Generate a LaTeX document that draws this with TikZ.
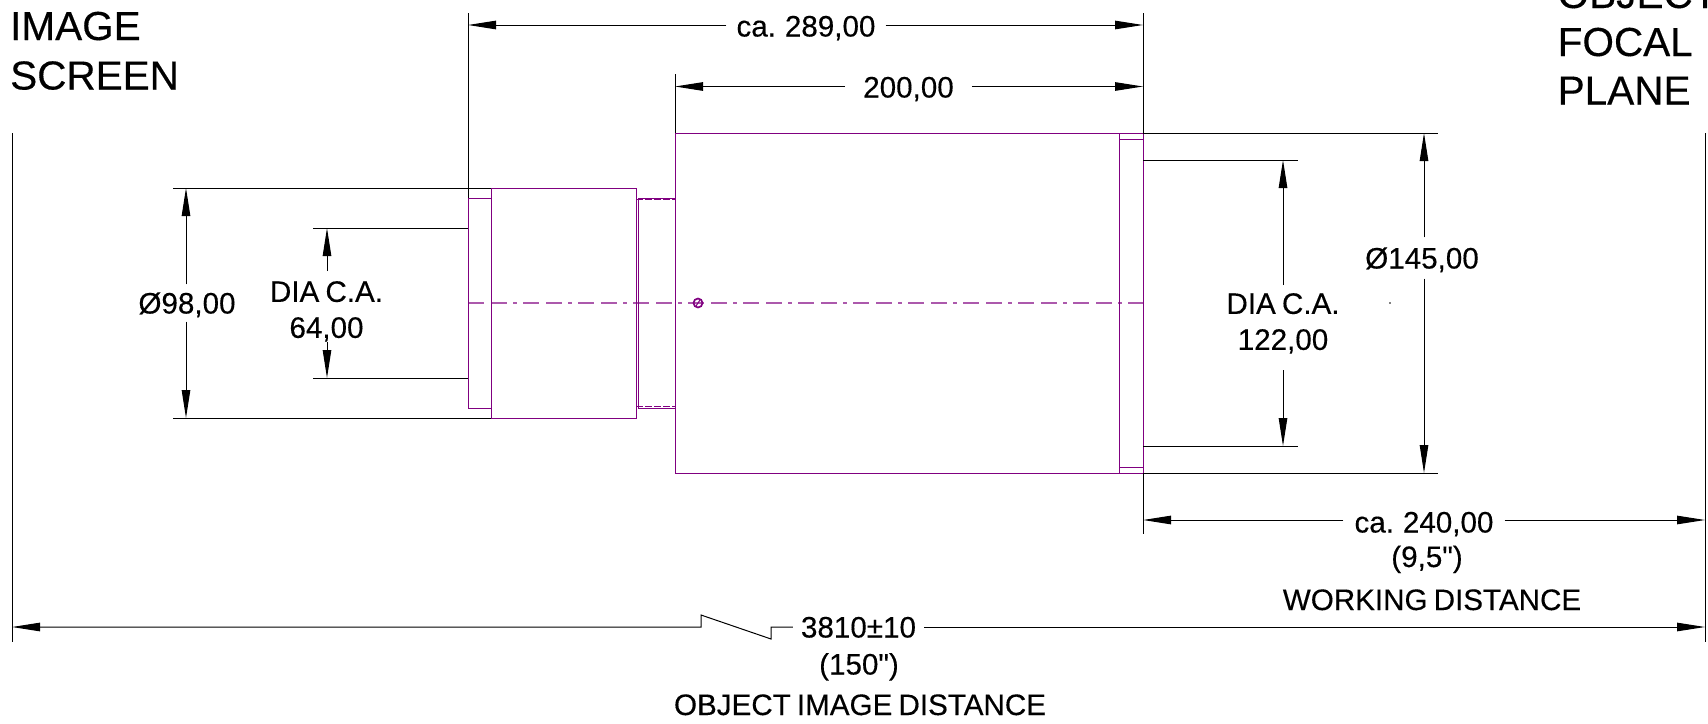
\documentclass[tikz,border=0pt]{standalone}
\usepackage{fontspec}
\setmainfont{Liberation Sans}[Ligatures=TeXOff,WordSpace=0.75,FakeBold=0.3]
\usetikzlibrary{arrows.meta}
\definecolor{partcolor}{RGB}{128,0,128}
\tikzset{
	dimtext/.style={font=\fontsize{29.6}{36}\selectfont,inner xsep=8pt,inner ysep=8pt,text height=21pt,text depth=0pt},
	stacktext/.style={font=\fontsize{29.6}{36}\selectfont,align=center,inner sep=0pt},
	freetext/.style={font=\fontsize{29.6}{36}\selectfont,inner sep=0pt,anchor=base},
	titletext/.style={font=\fontsize{40.5}{48}\selectfont,inner sep=0pt,anchor=base west},
	dimline/.style={->,black,line width=1pt},
	extline/.style={black,line width=1pt},
	partline/.style={partcolor,line width=1pt},
	>={Triangle[length=28pt,width=8.5pt]}
}
\begin{document}
\begin{tikzpicture}[x=1pt,y=-1pt]
	\useasboundingbox (0,0) rectangle (1708,723);

	% part outline
	\draw [partline] (468,198) rectangle (491,408);
	\draw [partline] (491,188) rectangle (636,418);
	\draw [partline] (638.5,198) rectangle (675,408);
	\draw [partline,dash pattern=on 7pt off 2pt] (636,199.5) -- (675,199.5);
	\draw [partline,dash pattern=on 7pt off 2pt] (636,406.5) -- (675,406.5);
	\draw [partline] (675,133) rectangle (1119,473);
	\draw [partline] (1119,133) rectangle (1143,473);
	\draw [partline] (1119,139) -- (1143,139);
	\draw [partline] (1119,467) -- (1143,467);
	\draw [partline,opacity=0.65,line width=1.2pt,dash pattern=on 16pt off 7pt on 16pt off 6pt on 4pt off 6pt] (468,303) -- (1143,303);
	\draw [partline,line width=1.7pt] (698,303) circle (4.5);
	\draw [partline] (696,306) -- (700,300);
	\fill (1390,303) circle (0.8);

	% extension lines
	\draw [extline] (12,133) -- (12,642);
	\draw [extline] (1705,133) -- (1705,642);
	\draw [extline] (468,13) -- (468,198);
	\draw [extline] (1143,13) -- (1143,133);
	\draw [extline] (1143,473) -- (1143,534);
	\draw [extline] (675,74) -- (675,133);
	\draw [extline] (1143,133) -- (1438,133);
	\draw [extline] (1143,473) -- (1438,473);
	\draw [extline] (1143,160) -- (1298,160);
	\draw [extline] (1143,446) -- (1298,446);
	\draw [extline] (173,188) -- (491,188);
	\draw [extline] (173,418) -- (491,418);
	\draw [extline] (313,228) -- (468,228);
	\draw [extline] (313,378) -- (468,378);

	% dimension ends
	\coordinate (endA) at (468,25);
	\coordinate (endB) at (1143,25);
	\coordinate (endC) at (675,86.5);
	\coordinate (endD) at (1143,86.5);
	\coordinate (endE) at (1424,133);
	\coordinate (endF) at (1424,473);
	\coordinate (endG) at (1283,160);
	\coordinate (endH) at (1283,446);
	\coordinate (endI) at (186,188);
	\coordinate (endJ) at (186,418);
	\coordinate (endK) at (327,228);
	\coordinate (endL) at (327,378);
	\coordinate (endM) at (1143,520);
	\coordinate (endN) at (1705,520);
	\coordinate (endO) at (12,627);
	\coordinate (endP) at (1705,627);
	\coordinate (gapG) at (1283,285);
	\coordinate (gapH) at (1283,370);
	\coordinate (gapK) at (327,271);
	\coordinate (gapL) at (327,342);

	% dimension texts
	\node [dimtext,inner xsep=10pt] (lenCase) at (806,26) {ca. 289,00};
	\node [dimtext,inner xsep=18pt] (lenBody) at (908.5,87) {200,00};
	\node [dimtext,inner ysep=10pt] (diaBody) at (1422,258) {Ø145,00};
	\node [stacktext] (diaFront) at (1283,323.4) {DIA C.A.\\122,00};
	\node [dimtext] (diaRear) at (187,303) {Ø98,00};
	\node [stacktext] (diaClear) at (326.5,311.4) {DIA C.A.\\64,00};
	\node [dimtext,inner xsep=11pt] (lenWork) at (1424,522) {ca. 240,00};
	\node [dimtext] (lenTotal) at (858.5,627) {3810±10};

	\draw [dimline] (lenCase.west |- endA) -- (endA);
	\draw [dimline] (lenCase.east |- endB) -- (endB);
	\draw [dimline] (lenBody.west |- endC) -- (endC);
	\draw [dimline] (lenBody.east |- endD) -- (endD);
	\draw [dimline] (diaBody.north -| endE) -- (endE);
	\draw [dimline] (diaBody.south -| endF) -- (endF);
	\draw [dimline] (gapG) -- (endG);
	\draw [dimline] (gapH) -- (endH);
	\draw [dimline] (diaRear.north -| endI) -- (endI);
	\draw [dimline] (diaRear.south -| endJ) -- (endJ);
	\draw [dimline] (gapK) -- (endK);
	\draw [dimline] (gapL) -- (endL);
	\draw [dimline] (lenWork.west |- endM) -- (endM);
	\draw [dimline] (lenWork.east |- endN) -- (endN);
	\draw [dimline] (lenTotal) -- (771,627) -- (771,639) -- (701,615) -- (701,627) -- (endO);
	\draw [dimline] (lenTotal) -- (endP);

	% other texts
	\node [freetext] (noteWorkInch) at (1427,567) {(9,5")};
	\node [freetext] (noteWork) at (1432,610) {WORKING DISTANCE};
	\node [freetext] (noteTotalInch) at (859,674.5) {(150")};
	\node [freetext] (noteTotal) at (860,715) {OBJECT IMAGE DISTANCE};
	\node [titletext] (titleImage) at (10,40) {IMAGE};
	\node [titletext] (titleScreen) at (10,89.5) {SCREEN};
	\node [titletext] (titleObject) at (1557.5,8) {OBJECT};
	\node [titletext] (titleFocal) at (1557.5,56) {FOCAL};
	\node [titletext] (titlePlane) at (1557.5,104.5) {PLANE};
\end{tikzpicture}
\end{document}
